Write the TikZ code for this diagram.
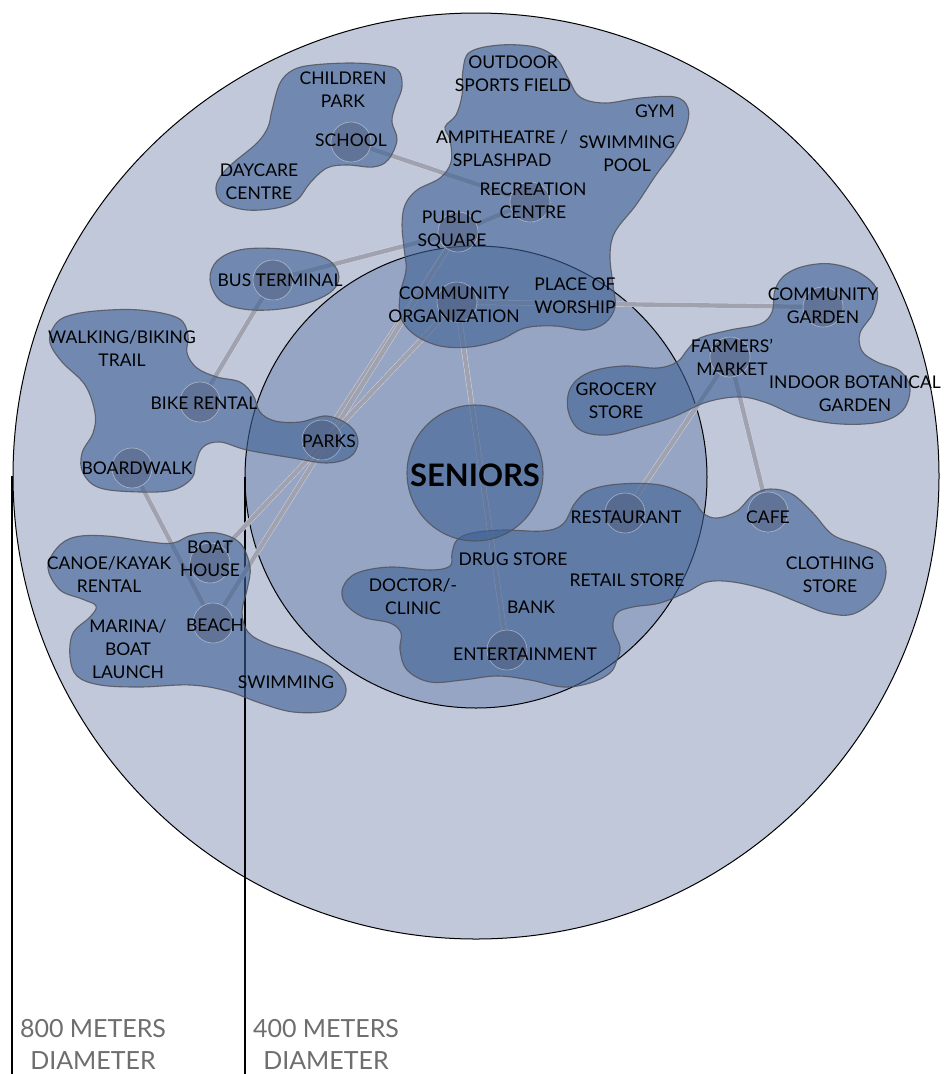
\documentclass[tikz,border=0pt]{standalone}
\usepackage{fontspec}
\setmainfont{Lato}
\pgfdeclarelayer{ground}
\pgfdeclarelayer{links}
\pgfdeclarelayer{zones}
\pgfsetlayers{ground,links,zones,main}

\definecolor{outerzone}{RGB}{193,200,218}
\definecolor{innerzone}{RGB}{150,165,195}
\definecolor{zoneblue}{RGB}{60,95,148}
\definecolor{zoneedge}{RGB}{80,80,86}
\definecolor{linkgray}{RGB}{160,162,175}
\definecolor{linkedge}{RGB}{212,216,228}
\definecolor{hubfill}{RGB}{75,85,115}
\definecolor{captiongray}{RGB}{110,110,110}

\tikzset{
  zone/.style={fill=zoneblue, fill opacity=0.6, draw=zoneedge, draw opacity=0.8, line width=1.1pt},
  hub/.style={circle, minimum size=40pt, inner sep=0pt, fill=hubfill, fill opacity=0.42,
              draw=white, draw opacity=0.45, line width=0.6pt},
  link/.style={draw=linkedge, double=linkgray, double distance=4.4pt, line width=0.45pt},
  place/.style={font=\fontsize{17.5}{23}\selectfont, align=center, text=black, inner sep=0pt},
  caption/.style={font=\fontsize{25}{32}\selectfont, align=center, text=captiongray, inner sep=0pt},
  leader/.style={draw=black, line width=1.6pt},
  ring/.style={draw=black, line width=1pt}
}

\begin{document}
\begin{tikzpicture}[x=1pt, y=-1pt]
\useasboundingbox (0,0) rectangle (946,1074);

% walking-distance rings and their leader lines
\begin{pgfonlayer}{ground}
  \fill[white] (0,0) rectangle (946,1074);
  \path[ring, fill=outerzone] (476,476) circle[radius=463pt];
  \path[ring, fill=innerzone] (476,477) circle[radius=231pt];
  \draw[leader] (12,476) -- (12,1074);
  \draw[leader] (245,477) -- (245,1074);
\end{pgfonlayer}

% hubs of the destinations that are linked
\node[hub] (school) at (351,142) {};
\node[hub] (rec) at (530,202) {};
\node[hub] (psq) at (458,232) {};
\node[hub] (bus) at (273,280) {};
\node[hub] (corg) at (457,302) {};
\node[hub] (cgarden) at (823,307) {};
\node[hub] (fmarket) at (730,357) {};
\node[hub] (bike) at (200,402) {};
\node[hub] (boardwalk) at (132,468) {};
\node[hub] (parks) at (322,440) {};
\node[hub] (boathouse) at (210,563) {};
\node[hub] (beach) at (213,623) {};
\node[hub] (rest) at (625,513) {};
\node[hub] (cafe) at (768,512) {};
\node[hub] (ent) at (507,650) {};

% links between destinations
\begin{pgfonlayer}{links}
  \draw[link] (school) -- (rec);
  \draw[link] (bus) -- (psq);
  \draw[link] (psq) -- (rec);
  \draw[link] (psq) -- (parks);
  \draw[link] (psq) -- (beach);
  \draw[link] (corg) -- (boathouse);
  \draw[link] (corg) -- (ent);
  \draw[link] (corg) -- (cgarden);
  \draw[link] (bus) -- (bike);
  \draw[link] (boardwalk) -- (beach);
  \draw[link] (fmarket) -- (rest);
  \draw[link] (fmarket) -- (cafe);
\end{pgfonlayer}

% destination clusters
\begin{pgfonlayer}{zones}
  % children park, school, daycare
  \draw[zone] plot[smooth cycle, tension=0.6] coordinates {
    (293,70) (313,65) (350,63) (380,65) (398,70) (402,87) (395,107) (392,122)
    (397,140) (388,160) (373,167) (347,165) (327,168) (310,183) (297,200)
    (277,208) (247,210) (223,203) (216,190) (220,177) (233,163) (257,143)
    (268,127) (272,110) (280,83)};
  % sports, recreation and public square
  \draw[zone] plot[smooth cycle, tension=0.6] coordinates {
    (470,52) (500,45) (535,47) (556,58) (568,78) (580,97) (605,103) (640,98)
    (675,97) (688,108) (686,128) (673,152) (656,175) (636,205) (615,232)
    (610,255) (613,285) (615,307) (605,323) (585,330) (555,326) (525,328)
    (500,340) (470,347) (440,346) (415,335) (401,318) (400,295) (406,270)
    (404,248) (402,225) (405,205) (417,190) (440,178) (451,162) (450,140)
    (445,127) (456,115) (462,95) (463,70)};
  % bus terminal
  \draw[zone] plot[smooth cycle, tension=0.6] coordinates {
    (210,280) (218,260) (245,249) (293,250) (327,259) (339,277) (328,294)
    (293,307) (252,310) (222,302)};
  % trail, bike rental, boardwalk, parks
  \draw[zone] plot[smooth cycle, tension=0.6] coordinates {
    (53,328) (65,317) (95,311) (140,310) (178,318) (188,335) (187,353)
    (197,368) (217,377) (240,382) (253,395) (260,412) (275,421) (300,422)
    (327,416) (350,426) (358,442) (350,457) (327,463) (293,458) (247,450)
    (220,442) (203,447) (196,462) (192,478) (173,490) (140,492) (100,488)
    (83,473) (82,453) (93,433) (95,413) (85,385) (62,362) (50,343)};
  % waterfront
  \draw[zone] plot[smooth cycle, tension=0.6] coordinates {
    (48,568) (57,548) (75,537) (107,536) (150,542) (173,543) (192,535)
    (217,533) (240,543) (250,567) (247,590) (242,612) (248,632) (268,644)
    (300,654) (330,667) (345,684) (343,700) (327,711) (293,712) (260,703)
    (227,691) (190,685) (140,687) (100,685) (77,676) (70,657) (73,633)
    (90,617) (96,606) (82,599) (60,590)};
  % gardens, market, grocery
  \draw[zone] plot[smooth cycle, tension=0.6] coordinates {
    (775,290) (785,275) (805,266) (832,264) (860,273) (877,290) (873,313)
    (860,333) (862,351) (877,362) (900,371) (910,388) (903,410) (880,422)
    (840,424) (800,417) (767,403) (740,397) (707,402) (673,417) (640,427)
    (607,435) (580,430) (568,410) (571,387) (590,372) (623,366) (657,368)
    (677,362) (688,349) (700,338) (730,330) (760,324) (772,312)};
  % shops, services and entertainment
  \draw[zone] plot[smooth cycle, tension=0.6] coordinates {
    (452,553) (457,540) (472,533) (503,530) (543,531) (563,524) (575,503)
    (590,490) (620,484) (660,485) (690,497) (703,513) (717,518) (737,511)
    (753,495) (770,489) (792,494) (813,513) (833,535) (860,545) (880,554)
    (886,573) (877,597) (853,614) (827,613) (800,603) (767,590) (733,582)
    (707,582) (687,592) (660,603) (633,607) (617,613) (613,628) (620,647)
    (617,660) (610,673) (590,683) (563,687) (530,680) (497,676) (463,680)
    (430,682) (407,670) (400,650) (401,633) (390,623) (363,617) (345,603)
    (343,587) (357,573) (390,567) (430,570) (450,566)};
  % seniors at the centre
  \node[zone, circle, minimum size=136pt, inner sep=0pt] (seniors) at (475,473) {};
\end{pgfonlayer}

% destination names
\node[place] (tChildren) at (343,90) {CHILDREN\\PARK};
\node[place] (tSchool) at (351,140) {SCHOOL};
\node[place] (tDaycare) at (259,182) {DAYCARE\\CENTRE};
\node[place] (tOutdoor) at (513,74) {OUTDOOR\\SPORTS FIELD};
\node[place] (tGym) at (655,111) {GYM};
\node[place] (tAmpi) at (502,149) {AMPITHEATRE /\\SPLASHPAD};
\node[place] (tPool) at (627,154) {SWIMMING\\POOL};
\node[place] (tRec) at (533,201) {RECREATION\\CENTRE};
\node[place] (tSquare) at (452,230) {PUBLIC\\SQUARE};
\node[place] (tBus) at (280,280) {BUS TERMINAL};
\node[place] (tCorg) at (454,305) {COMMUNITY\\ORGANIZATION};
\node[place] (tWorship) at (575,296) {PLACE OF\\WORSHIP};
\node[place] (tCgarden) at (823,306) {COMMUNITY\\GARDEN};
\node[place] (tMarket) at (732,357) {FARMERS'\\MARKET};
\node[place] (tGrocery) at (616,401) {GROCERY\\STORE};
\node[place] (tBotanical) at (855,394) {INDOOR BOTANICAL\\GARDEN};
\node[place] (tTrail) at (122,349) {WALKING/BIKING\\TRAIL};
\node[place] (tBike) at (204,403) {BIKE RENTAL};
\node[place] (tBoardwalk) at (137,468) {BOARDWALK};
\node[place] (tParks) at (329,441) {PARKS};
\node[place, font=\bfseries\fontsize{31}{34}\selectfont] (tSeniors) at (475,475) {SENIORS};
\node[place] (tCanoe) at (109,575) {CANOE/KAYAK\\RENTAL};
\node[place] (tBoathouse) at (210,559) {BOAT\\HOUSE};
\node[place] (tBeach) at (215,625) {BEACH};
\node[place] (tMarina) at (128,649) {MARINA/\\BOAT\\LAUNCH};
\node[place] (tSwimming) at (286,682) {SWIMMING};
\node[place] (tRest) at (626,517) {RESTAURANT};
\node[place] (tCafe) at (768,517) {CAFE};
\node[place] (tClothing) at (830,575) {CLOTHING\\STORE};
\node[place] (tDrug) at (513,559) {DRUG STORE};
\node[place] (tRetail) at (627,580) {RETAIL STORE};
\node[place] (tDoctor) at (413,597) {DOCTOR/-\\CLINIC};
\node[place] (tBank) at (531,607) {BANK};
\node[place] (tEnt) at (525,654) {ENTERTAINMENT};

% ring captions
\node[caption] (cap800) at (93,1044) {800 METERS\\DIAMETER};
\node[caption] (cap400) at (326,1044) {400 METERS\\DIAMETER};
\end{tikzpicture}
\end{document}
